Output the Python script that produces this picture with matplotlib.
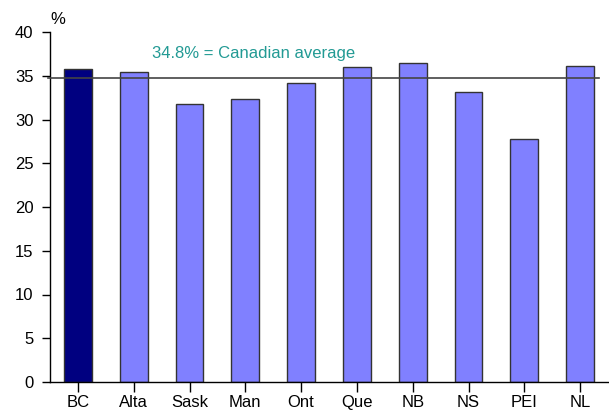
import matplotlib
matplotlib.use('Agg')
import matplotlib.pyplot as plt

# Share of population, by province (%)
provinces = ['BC', 'Alta', 'Sask', 'Man', 'Ont', 'Que', 'NB', 'NS', 'PEI', 'NL']
values = [35.8, 35.4, 31.8, 32.3, 34.2, 36.0, 36.5, 33.1, 27.8, 36.1]
canada_avg = 34.8
yticks = [0, 5, 10, 15, 20, 25, 30, 35, 40]

plt.rcParams['font.family'] = ['Liberation Sans', 'DejaVu Sans']

fig = plt.figure(figsize=(6.09, 4.12), dpi=100)
ax = fig.add_axes([50 / 609, 1 - 382 / 412, 558 / 609, 350 / 412])

colors = ['#000080'] + ['#8080FF'] * (len(provinces) - 1)
x = list(range(len(provinces)))
ax.bar(x, values, width=0.5, color=colors, edgecolor='#333333', linewidth=1, zorder=2)

ax.plot([-0.54, 9.34], [canada_avg, canada_avg], color='#444444', linewidth=1.2,
        zorder=3, clip_on=False)
ax.text(1.32, 37.6, f'{canada_avg}% = Canadian average', color='#229a94',
        fontsize=12, ha='left', va='center')

ax.set_xlim(-0.5, 9.5)
ax.set_ylim(0, 40)
ax.set_yticks(yticks)
ax.set_xticks(x)
ax.set_xticklabels(provinces)
ax.tick_params(axis='both', direction='out', width=1, labelsize=12,
               color='black')
ax.tick_params(axis='x', length=7, pad=2.3)
ax.tick_params(axis='y', length=6, pad=6)

for side in ['top', 'right']:
    ax.spines[side].set_visible(False)
for side in ['left', 'bottom']:
    ax.spines[side].set_linewidth(1)

fig.text(58 / 609, 1 - 19 / 412, '%', fontsize=12, ha='center', va='center')

fig.savefig('out.png', dpi=100)
